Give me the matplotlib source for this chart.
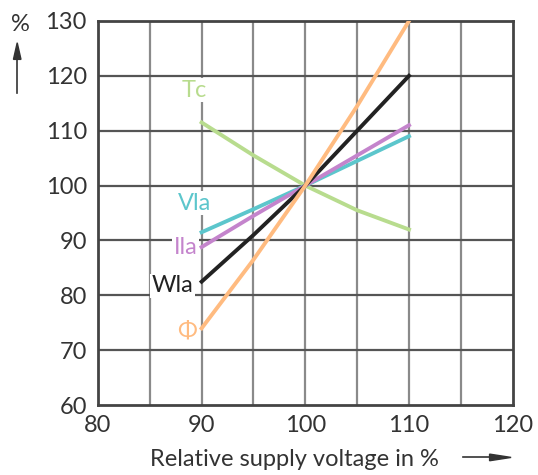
import numpy as np
import matplotlib.pyplot as plt

plt.rcParams['font.family'] = ['Lato', 'DejaVu Sans']

voltage = [90, 95, 100, 105, 110]
tc = [111.5, 105.5, 100, 95.5, 92]
vla = [91.5, 95.7, 100, 104.5, 109]
ila = [88.8, 94.5, 100, 105.5, 111]
wla = [82.5, 91, 100, 110, 120]
phi = [74, 86.5, 100, 114.5, 130]

xticks = [80, 90, 100, 110, 120]
yticks = [60, 70, 80, 90, 100, 110, 120, 130]

txt = '#333333'
fig = plt.figure(figsize=(5.38, 4.75), dpi=100)
ax = fig.add_axes([0.182, 0.147, 0.771, 0.809])

# gitter
for x in np.arange(85, 120, 5):
    ax.axvline(x, color='#8a8a8a', lw=1.6, zorder=1)
for y in np.arange(70, 130, 10):
    ax.axhline(y, color='#555555', lw=1.6, zorder=1)

ax.plot(voltage, tc, color='#b8dc8e', lw=2.8, zorder=3)
ax.plot(voltage, vla, color='#5cc6cc', lw=2.8, zorder=3)
ax.plot(voltage, ila, color='#c484cc', lw=2.8, zorder=3)
ax.plot(voltage, wla, color='#222222', lw=2.8, zorder=3)
ax.plot(voltage, phi, color='#ffbb80', lw=2.8, zorder=3)

ax.set_xlim(80, 120)
ax.set_ylim(60, 130)
ax.set_xticks(xticks)
ax.set_yticks(yticks)
ax.tick_params(length=0, labelsize=17, colors=txt)
ax.tick_params(axis='y', pad=8)
ax.tick_params(axis='x', pad=7)
for s in ax.spines.values():
    s.set_color('#444444')
    s.set_linewidth(2)

bb = dict(facecolor='white', edgecolor='none', pad=1)
ax.text(88.1, 116.2, 'Tc', color='#b8dc8e', fontsize=17, bbox=bb, zorder=4)
ax.text(87.7, 95.6, 'Vla', color='#5cc6cc', fontsize=17, bbox=bb, zorder=4)
ax.text(87.3, 87.6, 'Ila', color='#c484cc', fontsize=17, bbox=bb, zorder=4)
ax.text(85.2, 80.6, 'Wla', color='#222222', fontsize=17, bbox=bb, zorder=4)
ax.text(87.6, 72.3, 'Φ', color='#ffbb80', fontsize=17, bbox=bb, zorder=4)

fig.text(0.020, 0.935, '%', color=txt, fontsize=17)
fig.add_artist(plt.Line2D([0.032, 0.032], [0.805, 0.88], color=txt, lw=1.2))
fig.patches.append(plt.Polygon([[0.025, 0.875], [0.039, 0.875], [0.032, 0.91]],
                               closed=True, color=txt, transform=fig.transFigure))

fig.text(0.548, 0.018, 'Relative supply voltage in %', color=txt, fontsize=17, ha='center')
fig.add_artist(plt.Line2D([0.86, 0.92], [0.037, 0.037], color=txt, lw=1.2))
fig.patches.append(plt.Polygon([[0.91, 0.030], [0.91, 0.044], [0.95, 0.037]],
                               closed=True, color=txt, transform=fig.transFigure))

plt.savefig('out.png', dpi=100)
plt.close()
